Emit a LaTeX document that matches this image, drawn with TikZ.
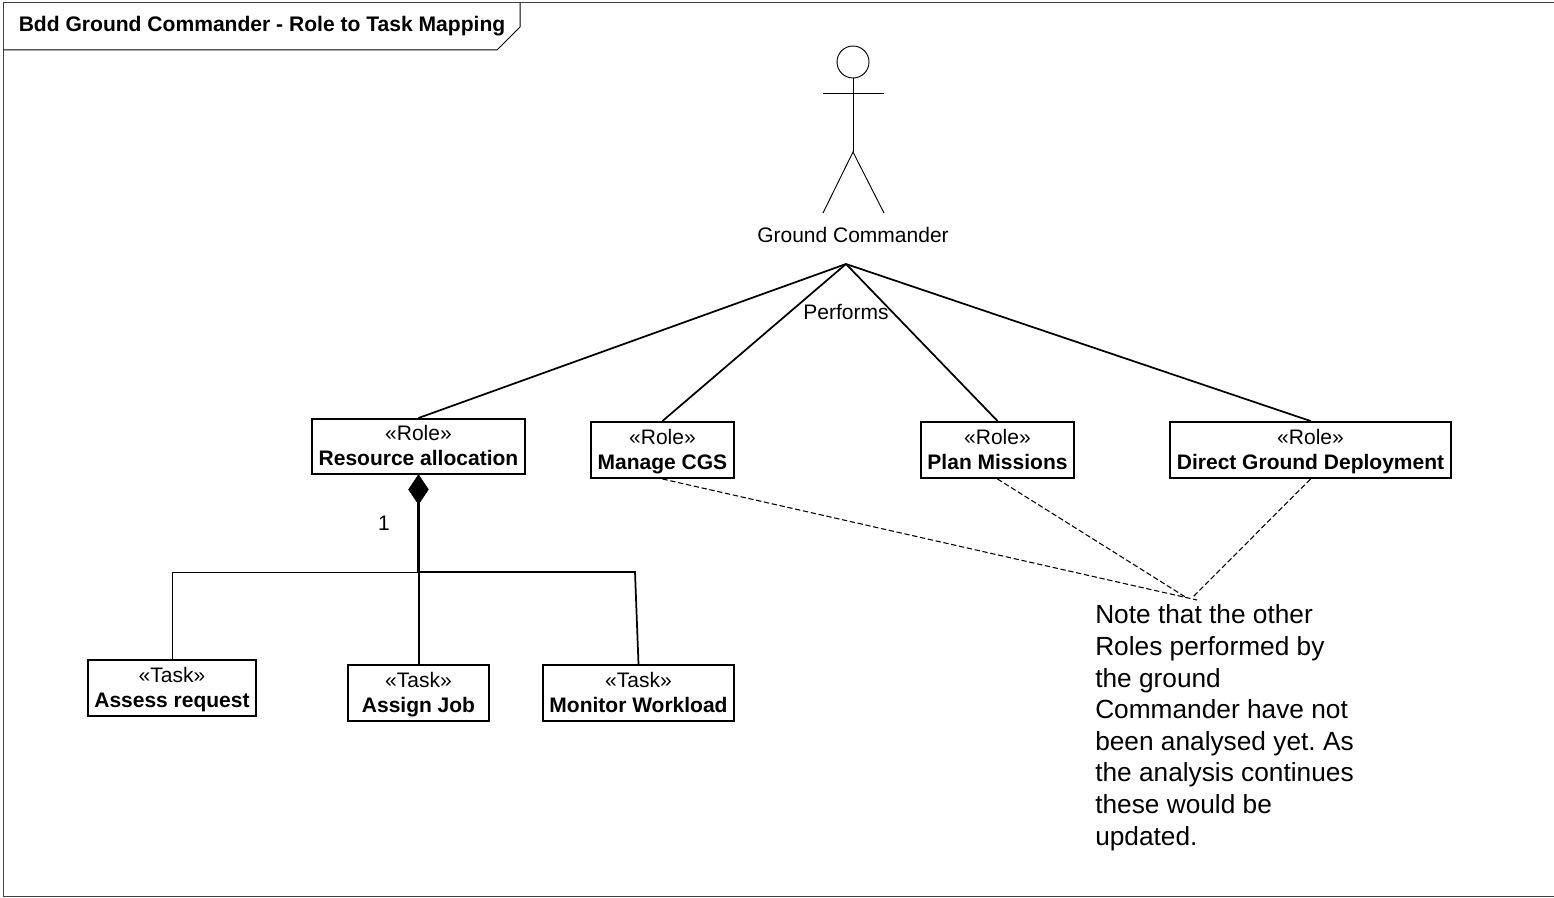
\documentclass[tikz,border=0pt]{standalone}
\usepackage{fontspec}
\setmainfont{Liberation Sans}
\usetikzlibrary{shapes.geometric}
\tikzset{
  umlbox/.style={draw=black,line width=1.5pt,fill=white,inner sep=0pt,align=center,font=\fontsize{15.75}{18.75}\selectfont},
  rel/.style={draw=black,line width=1.3pt},
  thinrel/.style={draw=black,line width=0.7pt},
  dashrel/.style={draw=black,line width=0.8pt,dash pattern=on 4pt off 2pt},
  lbl/.style={inner sep=0pt,font=\fontsize{15.75}{18.75}\selectfont},
  actorline/.style={draw=black,line width=0.7pt}
}
\newcommand{\boxtext}[2]{\rule{0pt}{15.6pt}«#1»\\\strut\textbf{#2}}
\frenchspacing
\begin{document}
\begin{tikzpicture}[x=0.75pt,y=-0.75pt]
\useasboundingbox (0,0) rectangle (1554,898);
% frame
\draw[draw=black!75,line width=1pt] (1556,2.5) -- (3.5,2.5) -- (3.5,896.5) -- (1556,896.5);
\node[lbl,font=\fontsize{15.8}{18}\selectfont\bfseries] (title) at (262,26.5) {Bdd Ground Commander - Role to Task Mapping};
\draw[draw=black,line width=0.75pt] (520,3) -- (520,27) -- (497,50) -- (3.5,50);
% actor
\node[draw=black,line width=0.7pt,circle,minimum size=24pt,inner sep=0pt] (head) at (853,62) {};
\coordinate (neck) at (853,152);
\coordinate (armL) at (823,93);
\coordinate (armR) at (884,93);
\coordinate (legL) at (823,213);
\coordinate (legR) at (884,213);
\draw[actorline] (head.south) -- (neck);
\draw[actorline] (armL) -- (armR);
\draw[actorline] (legL) -- (neck) -- (legR);
\node[lbl] (gclabel) at (853,235) {Ground Commander};
\coordinate (gc) at (846,264);
% roles
\node[umlbox,minimum width=159.75pt,minimum height=41.25pt] (res) at (418.5,446.5) {\boxtext{Role}{Resource allocation}};
\node[umlbox,minimum width=107.25pt,minimum height=42pt] (cgs) at (662.5,450) {\boxtext{Role}{Manage CGS}};
\node[umlbox,minimum width=114.75pt,minimum height=42pt] (plan) at (997.5,450) {\boxtext{Role}{Plan Missions}};
\node[umlbox,minimum width=210.75pt,minimum height=42pt] (direct) at (1310.5,450) {\boxtext{Role}{Direct Ground Deployment}};
\draw[rel] (gc) -- (res.north);
\draw[rel] (gc) -- (cgs.north);
\draw[rel] (gc) -- (plan.north);
\draw[rel] (gc) -- (direct.north);
\node[lbl] (performs) at (846,312) {Performs};
% tasks
\node[umlbox,minimum width=126pt,minimum height=42pt] (assess) at (172,688) {\boxtext{Task}{Assess request}};
\node[umlbox,minimum width=105.75pt,minimum height=42pt] (assign) at (418.5,693) {\boxtext{Task}{Assign Job}};
\node[umlbox,minimum width=143.25pt,minimum height=42pt] (monitor) at (638.5,693) {\boxtext{Task}{Monitor Workload}};
% composition
\node[diamond,draw=black,fill=black,inner sep=0pt,aspect=0.67,minimum width=15pt,minimum height=22.5pt] (dia) at (418.5,489.5) {};
\coordinate (junction) at (418.5,572);
\coordinate (cornerL) at (assess.north |- junction);
\coordinate (cornerR) at (635,572);
\draw[draw=black,line width=2pt] (dia.center) -- (junction);
\draw[draw=black,line width=1.5pt] (junction) -- (assign.north);
\draw[thinrel] (assess.north) -- (cornerL) -- (junction);
\draw[rel] (junction) -- (cornerR) -- (monitor.north);
\node[lbl] (one) at (384,523) {1};
% note
\coordinate (noteTip) at (1192,598);
\coordinate (noteTipA) at (1197,600);
\coordinate (noteTipB) at (1187,598);
\draw[dashrel] (cgs.south) -- (noteTipA);
\draw[dashrel] (plan.south) -- (noteTipB);
\draw[dashrel] (direct.south) -- (noteTip);
\node[anchor=north west,inner sep=0pt,align=left,font=\fontsize{19.7}{23.7}\selectfont] (note) at (1095,604.5)
 {Note that the other\\Roles performed by\\the ground\\Commander have not\\been analysed yet. As\\the analysis continues\\these would be\\updated.};
\end{tikzpicture}
\end{document}
